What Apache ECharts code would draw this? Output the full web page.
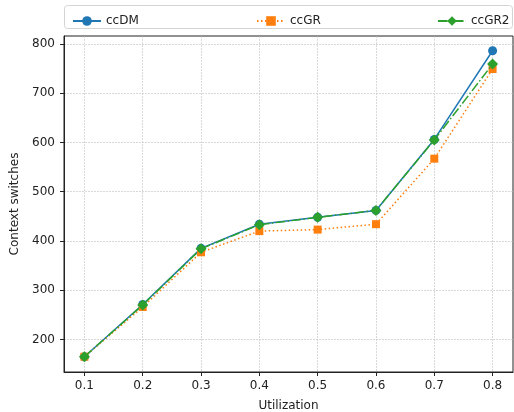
<!DOCTYPE html>
<html lang="en">
<head>
	<meta charset="UTF-8">
	<script src="https://cdn.jsdelivr.net/npm/echarts@6/dist/echarts.min.js"></script>
	<style>
		html, body { margin: 0; padding: 0; background: #fff; }
		#main { width: 514px; height: 412px; }
	</style>
</head>
<body>
<div id="main"></div>
<script>
  var utilization = [0.1, 0.2, 0.3, 0.4, 0.5, 0.6, 0.7, 0.8];
  var ccDM = [165, 271, 385, 434, 448, 462, 606, 786];
  var ccGR = [165, 266, 377, 420, 423, 434, 567, 749];
  var ccGR2 = [165, 270, 384, 433, 448, 462, 605, 759];
  var xTicks = [0.1, 0.2, 0.3, 0.4, 0.5, 0.6, 0.7, 0.8];
  var yTicks = [200, 300, 400, 500, 600, 700, 800];

  function pairs(xs, ys) {
    return xs.map(function (x, i) { return [x, ys[i]]; });
  }

  var font = 'DejaVu Sans';
  var chart = echarts.init(document.getElementById('main'));

  var option = {
    animation: false,
    textStyle: { fontFamily: font },
    grid: {
      left: 64, right: 1, top: 36, bottom: 40,
      outerBoundsMode: 'none',
      show: true, borderColor: '#222', borderWidth: 1
    },
    graphic: [{
      type: 'rect',
      shape: { x: 64.5, y: 5.5, width: 448, height: 23, r: 3 },
      style: { fill: '#fff', stroke: '#d4d4d4', lineWidth: 1 },
      z: -1
    }],
    legend: [
      { data: ['ccDM'], left: 67, top: 10 },
      { data: ['ccGR'], left: 251, top: 10 },
      { data: ['ccGR2'], left: 432, top: 10 }
    ].map(function (l) {
      l.itemWidth = 28;
      l.itemHeight = 12;
      l.itemGap = 10;
      l.textStyle = { fontFamily: font, fontSize: 12, color: '#222' };
      return l;
    }),
    xAxis: {
      type: 'value',
      min: 0.065, max: 0.835,
      name: 'Utilization',
      nameLocation: 'middle',
      nameGap: 28,
      nameTextStyle: { fontFamily: font, fontSize: 12, color: '#222' },
      axisLine: { lineStyle: { color: '#222' } },
      axisTick: { show: true, length: 4, customValues: xTicks, lineStyle: { color: '#222' } },
      axisLabel: { customValues: xTicks, fontSize: 12, color: '#222', margin: 8,
        formatter: function (v) { return v.toFixed(1); } },
      splitLine: { show: true, lineStyle: { color: '#c0c0c0', width: 0.6, type: [2, 1] } }
    },
    yAxis: {
      type: 'value',
      min: 134, max: 816,
      name: 'Context switches',
      nameLocation: 'middle',
      nameGap: 40,
      nameTextStyle: { fontFamily: font, fontSize: 12, color: '#222' },
      axisLine: { show: true, lineStyle: { color: '#222' } },
      axisTick: { show: true, length: 4, customValues: yTicks, lineStyle: { color: '#222' } },
      axisLabel: { customValues: yTicks, fontSize: 12, color: '#222', margin: 9 },
      splitLine: { show: true, lineStyle: { color: '#c0c0c0', width: 0.6, type: [2, 1] } }
    },
    series: [
      {
        name: 'ccDM', type: 'line', data: pairs(utilization, ccDM),
        symbol: 'circle', symbolSize: 9,
        color: '#1f77b4',
        lineStyle: { width: 1.5, type: 'solid' },
        z: 2
      },
      {
        name: 'ccGR', type: 'line', data: pairs(utilization, ccGR),
        symbol: 'rect', symbolSize: 8,
        color: '#ff7f0e',
        lineStyle: { width: 1.5, type: [1.5, 2.5] },
        z: 3
      },
      {
        name: 'ccGR2', type: 'line', data: pairs(utilization, ccGR2),
        symbol: 'diamond', symbolSize: 11,
        color: '#2ca02c',
        lineStyle: { width: 1.5, type: [9.6, 2.4, 1.5, 2.4] },
        z: 4
      }
    ]
  };
  chart.setOption(option);
</script>
</body>
</html>
